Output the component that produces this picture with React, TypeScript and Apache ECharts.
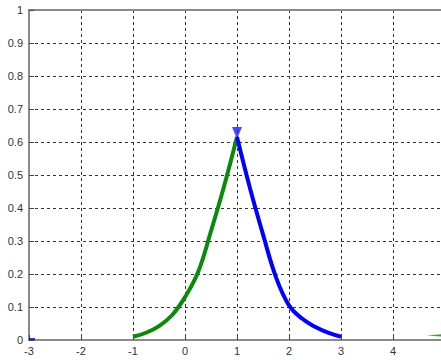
import React, { useEffect, useRef } from "react";
import * as echarts from "echarts";

const greenX = [-1, -0.75, -0.5, -0.25, 0, 0.25, 0.5, 0.75, 1];
const greenY = [0.01, 0.022, 0.042, 0.075, 0.13, 0.205, 0.33, 0.465, 0.615];
const blueX = [1, 1.25, 1.5, 1.75, 2, 2.25, 2.5, 2.75, 3];
const blueY = [0.615, 0.46, 0.32, 0.19, 0.105, 0.065, 0.04, 0.022, 0.01];
const xTicks = [-3, -2, -1, 0, 1, 2, 3, 4];
const peakMarker = [1, 0.615];
const blueEndMarker = [-3, 0.003];
const greenEndMarker = [4.9, 0.014];

export default function App() {
  const ref = useRef<HTMLDivElement>(null);
  useEffect(() => {
    if (!ref.current) return;
    const chart = echarts.init(ref.current, null, { renderer: "svg" });
    const font = "'Liberation Sans', Arial, sans-serif";
    const xMax = -3 + 412 / 52;
    chart.setOption({
      animation: false,
      backgroundColor: "#ffffff",
      grid: {
        left: 29,
        top: 10,
        right: 0,
        bottom: 20,
      },
      xAxis: [
        {
          type: "value",
          min: -3,
          max: xMax,
          interval: 1,
          axisLine: { onZero: false, lineStyle: { color: "#8a8a8a", width: 2 } },
          axisTick: { inside: true, length: 5, lineStyle: { color: "#444" } },
          axisLabel: {
            color: "#333",
            fontFamily: font,
            fontSize: 11,
            margin: 5,
            showMaxLabel: false,
            formatter: (v: number) => (xTicks.includes(v) ? String(v) : ""),
          },
          splitLine: {
            show: true,
            lineStyle: { color: "#333", type: [3, 3], width: 1 },
          },
        },
        {
          type: "value",
          position: "top",
          min: -3,
          max: xMax,
          interval: 1,
          axisLine: { onZero: false, lineStyle: { color: "#8a8a8a", width: 2 } },
          axisTick: { show: false },
          axisLabel: { show: false },
          splitLine: { show: false },
        },
      ],
      yAxis: {
        type: "value",
        min: 0,
        max: 1,
        interval: 0.1,
        axisLine: { show: true, onZero: false, lineStyle: { color: "#8a8a8a", width: 2 } },
        axisTick: { show: true, inside: true, length: 5, lineStyle: { color: "#444" } },
        axisLabel: {
          color: "#333",
          fontFamily: font,
          fontSize: 11,
          margin: 6,
          formatter: (v: number) => String(Math.round(v * 10) / 10),
        },
        splitLine: {
          show: true,
          lineStyle: { color: "#333", type: [3, 3], width: 1 },
        },
      },
      series: [
        {
          type: "line",
          data: greenX.map((x, i) => [x, greenY[i]]),
          smooth: 0.4,
          symbol: "none",
          lineStyle: { color: "#0a8a0a", width: 4 },
        },
        {
          type: "line",
          data: blueX.map((x, i) => [x, blueY[i]]),
          smooth: 0.4,
          symbol: "none",
          lineStyle: { color: "#0000ff", width: 4 },
        },
        {
          type: "scatter",
          data: [peakMarker],
          symbol: "triangle",
          symbolRotate: 180,
          symbolSize: [10, 12],
          symbolOffset: [0, -4],
          itemStyle: { color: "#1a1aff" },
        },
        {
          type: "scatter",
          data: [blueEndMarker],
          symbol: "rect",
          symbolSize: [6, 2],
          symbolOffset: [3, 0],
          itemStyle: { color: "#0000ff" },
        },
        {
          type: "scatter",
          data: [greenEndMarker],
          symbol: "triangle",
          symbolRotate: 90,
          symbolSize: [4, 26],
          itemStyle: { color: "#0a8a0a" },
        },
      ],
    });
    return () => chart.dispose();
  }, []);
  return (
    <div
      ref={ref}
      style={{ position: "absolute", left: 0, top: 0, width: 441, height: 360 }}
    />
  );
}
